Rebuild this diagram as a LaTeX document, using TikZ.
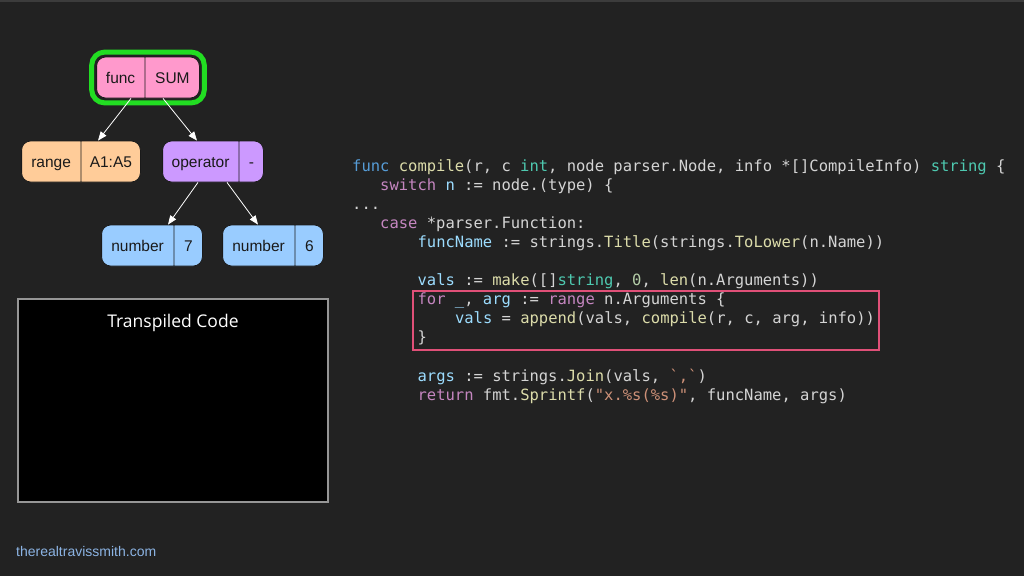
\documentclass[tikz,border=0pt]{standalone}
\usepackage{fontspec}
\setmainfont{Liberation Sans}
\setmonofont{DejaVu Sans Mono}
\newfontfamily\titlefont{Open Sans}
\usetikzlibrary{shapes,arrows.meta,positioning,fit}
\definecolor{cBg}    {RGB}{34,34,34}
\definecolor{cTop}   {RGB}{60,60,60}
\definecolor{cInk}   {RGB}{26,26,26}
\definecolor{cFunc}  {RGB}{255,153,204}
\definecolor{cRange} {RGB}{255,204,153}
\definecolor{cOper}  {RGB}{204,153,255}
\definecolor{cNumber}{RGB}{153,204,255}
\definecolor{cHalo}  {RGB}{34,221,34}
\definecolor{cFrame} {RGB}{150,150,150}
\definecolor{cMark}  {RGB}{224,80,120}
\definecolor{cLink}  {RGB}{140,180,228}
% --- code colours
\definecolor{cdPlain}{RGB}{212,212,212}
\definecolor{cdBlue} {RGB}{86,156,214}
\definecolor{cdKey}  {RGB}{197,134,192}
\definecolor{cdFn}   {RGB}{220,220,170}
\definecolor{cdType} {RGB}{78,201,176}
\definecolor{cdVar}  {RGB}{156,220,254}
\definecolor{cdLit}  {RGB}{181,206,168}
\definecolor{cdStr}  {RGB}{206,145,120}
\newcommand{\kwd}[1]{\textcolor{cdKey}{#1}}
\newcommand{\fnc}[1]{\textcolor{cdFn}{#1}}
\newcommand{\typ}[1]{\textcolor{cdType}{#1}}
\newcommand{\vnm}[1]{\textcolor{cdVar}{#1}}
\newcommand{\lit}[1]{\textcolor{cdLit}{#1}}
\newcommand{\strg}[1]{\textcolor{cdStr}{#1}}
\newcommand{\codesize}{\fontsize{15.5pt}{19pt}\selectfont\ttfamily}
\newcommand{\astcell}[2]{\makebox[#1pt]{\rule[-15pt]{0pt}{41pt}#2}}

\begin{document}
\begin{tikzpicture}[
    x=1pt, y=-1pt,
    ast/.style={rectangle split, rectangle split horizontal, rectangle split parts=2,
                draw=cInk, line width=0.8pt, rounded corners=9pt,
                inner xsep=0pt, inner ysep=0pt, text=cInk,
                font=\fontsize{15.5pt}{18pt}\selectfont},
    halo/.style={draw=cHalo, line width=5pt, rounded corners=13pt, inner sep=4.5pt},
    edge/.style={-{Triangle[length=9pt,width=7pt]}, draw=white, line width=0.8pt},
    code/.style={anchor=base west, inner sep=0pt, text=cdPlain, font=\codesize},
]
\fill[cBg] (0,0) rectangle (1024,576);
\useasboundingbox (0,0) rectangle (1024,576);
\draw[cTop, line width=1.5pt] (0,0.75) -- (1024,0.75);

% --- AST
\node[ast, fill=cFunc] (func) at (148,77.5)
    {\astcell{48}{func}\nodepart{two}\astcell{54}{SUM}};
\node[halo, fit=(func)] (funcHalo) {};
\node[ast, fill=cRange] (range) at (81,161.5)
    {\astcell{59}{range}\nodepart{two}\astcell{59}{A1:A5}};
\node[ast, fill=cOper] (oper) at (213,161.5)
    {\astcell{76}{operator}\nodepart{two}\astcell{24}{-}};
\node[ast, fill=cNumber] (seven) at (152,245.5)
    {\astcell{72}{number}\nodepart{two}\astcell{28}{7}};
\node[ast, fill=cNumber] (six) at (273,245.5)
    {\astcell{72}{number}\nodepart{two}\astcell{28}{6}};

\draw[edge] ([xshift=-17pt]func.south) -- ([xshift=17pt]range.north);
\draw[edge] ([xshift=15pt]func.south) -- ([xshift=-16pt]oper.north);
\draw[edge] ([xshift=-15pt]oper.south) -- ([xshift=16pt]seven.north);
\draw[edge] ([xshift=14pt]oper.south) -- ([xshift=-15pt]six.north);

% --- output panel
\node[draw=cFrame, fill=black, line width=1.5pt, minimum width=310pt,
      minimum height=203pt] (panel) at (173,400.5) {};
\node[text=white, font=\titlefont\fontsize{17.5pt}{20pt}\selectfont] (panelTitle)
    at (173,322.5) {Transpiled Code};

% --- source code
\node[code] (c1) at (352,171)
    {\textcolor{cdBlue}{func} \fnc{compile}(r, c \typ{int}, node parser.Node, info *[]CompileInfo) \typ{string} \{};
\node[code] (c2) at (380,190.1) {\kwd{switch} \vnm{n} := node.(type) \{};
\node[code] (c3) at (352,209.2) {...};
\node[code] (c4) at (380,228.3) {\kwd{case} *parser.Function:};
\node[code] (c5) at (417.4,247.4)
    {\vnm{funcName} := strings.\fnc{Title}(strings.\fnc{ToLower}(n.Name))};
\node[code] (c7) at (417.4,285.6)
    {\vnm{vals} := \fnc{make}([]\typ{string}, \lit{0}, \fnc{len}(n.Arguments))};
\node[code] (c8) at (417.4,304.7)
    {\kwd{for} \vnm{\_}, \vnm{arg} := \kwd{range} n.Arguments \{};
\node[code] (c9) at (454.8,323.8)
    {\vnm{vals} = \fnc{append}(vals, \fnc{compile}(r, c, arg, info))};
\node[code] (c10) at (417.4,342.9) {\}};
\node[code] (c12) at (417.4,381.1)
    {\vnm{args} := strings.\fnc{Join}(vals, \strg{`,`})};
\node[code] (c13) at (417.4,400.2)
    {\kwd{return} fmt.\fnc{Sprintf}(\strg{"x.\%s(\%s)"}, funcName, args)};

% --- highlighted loop
\node[draw=cMark, line width=2pt, minimum width=466pt, minimum height=59pt]
    (loopMark) at (646,320.5) {};

% --- footer
\node[anchor=west, inner sep=0pt, text=cLink, font=\fontsize{14pt}{16pt}\selectfont]
    (site) at (16,551) {therealtravissmith.com};
\end{tikzpicture}
\end{document}
